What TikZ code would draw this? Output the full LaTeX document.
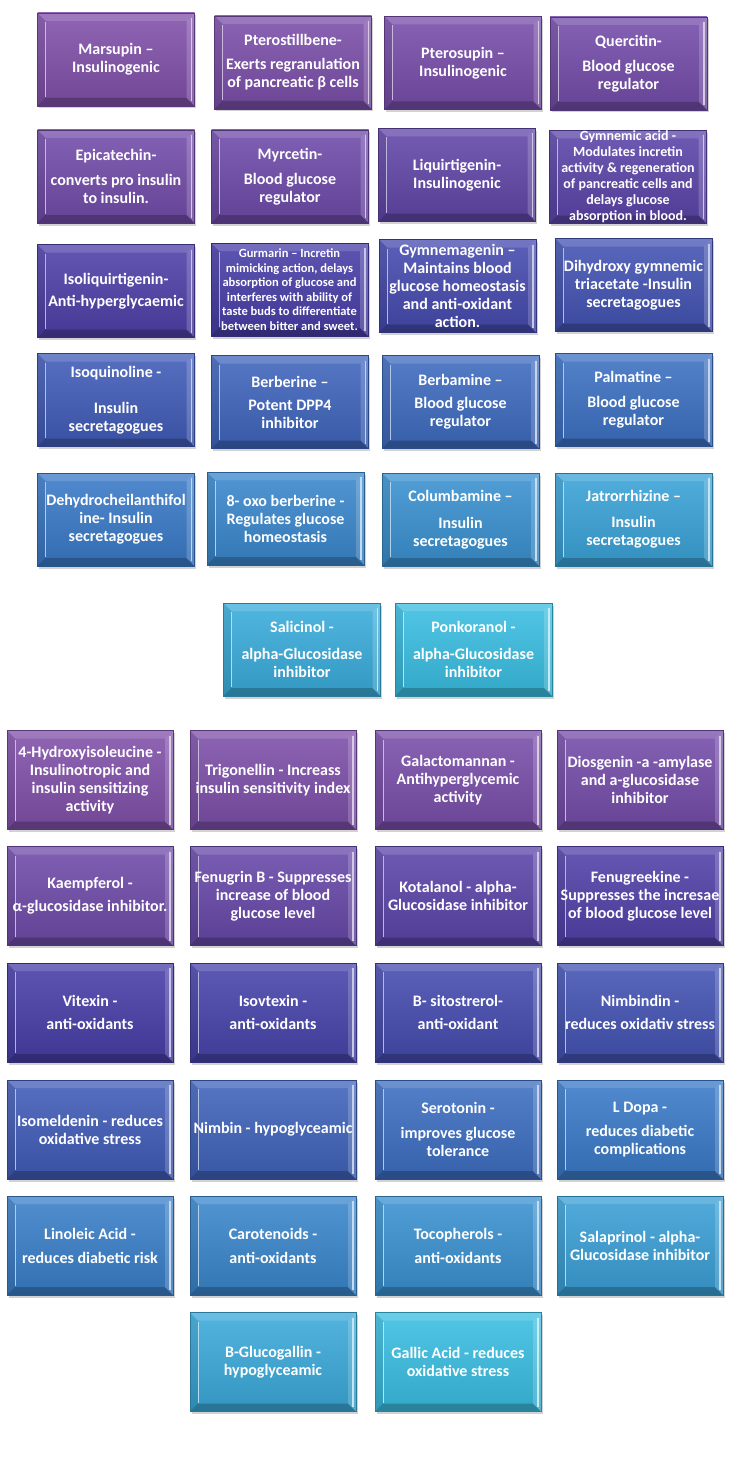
\documentclass[tikz,border=0pt]{standalone}
\usepackage{fontspec}
\setmainfont{Carlito}
\usetikzlibrary{shadows,positioning}
\definecolor{mauve}{RGB}{128,80,170}
\definecolor{indigo}{RGB}{72,62,168}
\definecolor{azure}{RGB}{58,122,200}
\definecolor{sky}{RGB}{58,190,226}
\tikzset{font=\bfseries\fontsize{16}{18}\selectfont}
\tikzset{herb/.style={draw=#1!70!black, line width=0.8pt, top color=#1!88!white, bottom color=#1!88!black,
  text=white, align=center, inner sep=0pt, minimum width=157pt, minimum height=93pt,
  drop shadow={shadow xshift=1.5pt, shadow yshift=-2.5pt, opacity=0.35},
  path picture={
    \coordinate (nw) at (path picture bounding box.north west);
    \coordinate (ne) at (path picture bounding box.north east);
    \coordinate (sw) at (path picture bounding box.south west);
    \coordinate (se) at (path picture bounding box.south east);
    \fill[white, opacity=0.14] (nw) -- (ne) -- ([shift={(-8pt,-8pt)}]ne) -- ([shift={(8pt,-8pt)}]nw) -- cycle;
    \fill[black, opacity=0.22] (sw) -- (se) -- ([shift={(-8pt,8pt)}]se) -- ([shift={(8pt,8pt)}]sw) -- cycle;
    \fill[black, opacity=0.08] (nw) -- ([shift={(8pt,-8pt)}]nw) -- ([shift={(8pt,8pt)}]sw) -- (sw) -- cycle;
    \fill[white, opacity=0.18] (ne) -- ([shift={(-8pt,-8pt)}]ne) -- ([shift={(-8pt,8pt)}]se) -- (se) -- cycle;
    \draw[#1!40!white, line width=1pt] ([shift={(8pt,-9pt)}]nw) -- ([shift={(8pt,9pt)}]sw);
    \draw[#1!30!white, line width=1.6pt] ([shift={(-3pt,-5pt)}]ne) -- ([shift={(-3pt,5pt)}]se);
  }}}
\tikzset{bigbox/.style={minimum width=166pt, minimum height=99pt}}
\tikzset{smalltext/.style={font=\bfseries\fontsize{14}{16}\selectfont}}

\begin{document}
\begin{tikzpicture}[x=1pt,y=-1pt]
  \fill[white] (0,0) rectangle (750,1458);
  \useasboundingbox (0,0) rectangle (750,1458);

  \node[herb=mauve] (marsupin) at (116,59.5) {Marsupin –\\Insulinogenic};
  \node[herb=mauve!92!indigo] (pterostil) at (293,62.5) {Pterostillbene-\\[6pt]Exerts regranulation\\of pancreatic β cells};
  \node[herb=mauve!85!indigo] (pterosupin) at (463,63) {Pterosupin –\\Insulinogenic};
  \node[herb=mauve!78!indigo] (quercitin) at (628.5,63.5) {Quercitin-\\[7pt]Blood glucose\\regulator};

  \node[herb=mauve!75!indigo] (epicatechin) at (116,176.5) {Epicatechin-\\[7pt]converts pro insulin\\to insulin.};
  \node[herb=mauve!68!indigo] (myrcetin) at (290,176.5) {Myrcetin-\\[7pt]Blood glucose\\regulator};
  \node[herb=mauve!45!indigo] (liquirtigenin) at (457,175) {Liquirtigenin-\\Insulinogenic};
  \node[herb=mauve!35!indigo, smalltext] (gymnemic) at (628,177) {Gymnemic acid -\\Modulates incretin\\activity \& regeneration\\of pancreatic cells and\\delays glucose\\absorption in blood.};

  \node[herb=mauve!10!indigo] (isoliquirtigenin) at (116,291) {Isoliquirtigenin-\\[4pt]Anti-hyperglycaemic};
  \node[herb=indigo, font=\bfseries\fontsize{12.5}{14.5}\selectfont] (gurmarin) at (289.5,289.5) {Gurmarin – Incretin\\mimicking action, delays\\absorption of glucose and\\interferes with ability of\\taste buds to differentiate\\between bitter and sweet.};
  \node[herb=indigo!80!azure] (gymnemagenin) at (457.5,286) {Gymnemagenin –\\Maintains blood\\glucose homeostasis\\and anti-oxidant\\action.};
  \node[herb=indigo!65!azure] (dihydroxy) at (633.5,285) {Dihydroxy gymnemic\\triacetate -Insulin\\secretagogues};

  \node[herb=indigo!50!azure] (isoquinoline) at (116,400) {Isoquinoline -\\[18pt]Insulin\\secretagogues};
  \node[herb=indigo!35!azure] (berberine) at (290,402) {Berberine –\\[5pt]Potent DPP4\\inhibitor};
  \node[herb=indigo!25!azure] (berbamine) at (460.5,402) {Berbamine –\\[5pt]Blood glucose\\regulator};
  \node[herb=indigo!15!azure] (palmatine) at (633.5,400) {Palmatine –\\[7pt]Blood glucose\\regulator};

  \node[herb=azure] (dehydro) at (116,519.5) {Dehydrocheilanthifol\\ine- Insulin\\secretagogues};
  \node[herb=azure!80!sky] (oxoberberine) at (285.5,518.5) {8- oxo berberine -\\Regulates glucose\\homeostasis};
  \node[herb=azure!65!sky] (columbamine) at (460.5,519.5) {Columbamine –\\[9pt]Insulin\\secretagogues};
  \node[herb=azure!40!sky] (jatrorrhizine) at (633.5,519.5) {Jatrorrhizine –\\[8pt]Insulin\\secretagogues};

  \node[herb=azure!25!sky] (salicinol) at (302,649.5) {Salicinol -\\[9pt]alpha-Glucosidase\\inhibitor};
  \node[herb=sky] (ponkoranol) at (473.5,649.5) {Ponkoranol -\\[9pt]alpha-Glucosidase\\inhibitor};

  \node[herb=mauve, bigbox] (hydroxyiso) at (90,780) {4-Hydroxyisoleucine -\\Insulinotropic and\\insulin sensitizing\\activity};
  \node[herb=mauve!95!indigo, bigbox] (trigonellin) at (273,780) {Trigonellin - Increass\\insulin sensitivity index};
  \node[herb=mauve!88!indigo, bigbox] (galactomannan) at (458,780) {Galactomannan -\\Antihyperglycemic\\activity};
  \node[herb=mauve!80!indigo, bigbox] (diosgenin) at (640,780) {Diosgenin -a -amylase\\and a-glucosidase\\inhibitor};

  \node[herb=mauve!70!indigo, bigbox] (kaempferol) at (90,896) {Kaempferol -\\[5pt]α-glucosidase inhibitor.};
  \node[herb=mauve!55!indigo, bigbox] (fenugrin) at (273,896) {Fenugrin B - Suppresses\\increase of blood\\glucose level};
  \node[herb=mauve!35!indigo, bigbox] (kotalanol) at (458,896) {Kotalanol - alpha-\\Glucosidase inhibitor};
  \node[herb=mauve!15!indigo, bigbox] (fenugreekine) at (640,896) {Fenugreekine -\\Suppresses the incresae\\of blood glucose level};

  \node[herb=indigo, bigbox] (vitexin) at (90,1012.5) {Vitexin -\\[5pt]anti-oxidants};
  \node[herb=indigo!90!azure, bigbox] (isovtexin) at (273,1012.5) {Isovtexin -\\[5pt]anti-oxidants};
  \node[herb=indigo!78!azure, bigbox] (sitostrerol) at (458,1012.5) {B- sitostrerol-\\[5pt]anti-oxidant};
  \node[herb=indigo!65!azure, bigbox] (nimbindin) at (640,1012.5) {Nimbindin -\\[5pt]reduces oxidativ stress};

  \node[herb=indigo!50!azure, bigbox] (isomeldenin) at (90,1129.5) {Isomeldenin - reduces\\oxidative stress};
  \node[herb=indigo!38!azure, bigbox] (nimbin) at (273,1129.5) {Nimbin - hypoglyceamic};
  \node[herb=indigo!20!azure, bigbox] (serotonin) at (458,1129.5) {Serotonin -\\[7pt]improves glucose\\tolerance};
  \node[herb=azure, bigbox] (ldopa) at (640,1129.5) {L Dopa -\\[6pt]reduces diabetic\\complications};

  \node[herb=azure!92!sky, bigbox] (linoleic) at (90,1245.5) {Linoleic Acid -\\[6pt]reduces diabetic risk};
  \node[herb=azure!82!sky, bigbox] (carotenoids) at (273,1245.5) {Carotenoids -\\[6pt]anti-oxidants};
  \node[herb=azure!65!sky, bigbox] (tocopherols) at (458,1245.5) {Tocopherols -\\[6pt]anti-oxidants};
  \node[herb=azure!45!sky, bigbox] (salaprinol) at (640,1245.5) {Salaprinol - alpha-\\Glucosidase inhibitor};

  \node[herb=azure!30!sky, bigbox] (glucogallin) at (273,1362) {B-Glucogallin -\\hypoglyceamic};
  \node[herb=sky, bigbox] (gallic) at (458,1362) {Gallic Acid - reduces\\oxidative stress};
\end{tikzpicture}
\end{document}
